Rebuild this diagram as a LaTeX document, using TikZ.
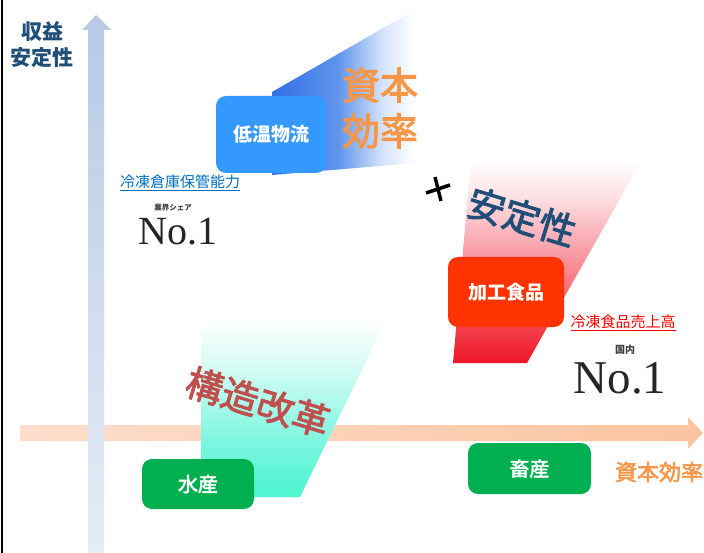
\documentclass[tikz,border=0pt]{standalone}
\usepackage{fontspec}
\newfontfamily\jp{Noto Sans CJK JP}
\newfontfamily\jpm{Noto Sans CJK JP}[FakeBold=2.5]
\newfontfamily\noone{Liberation Serif}
\definecolor{axisblue}{RGB}{31,78,121}
\definecolor{orangetx}{RGB}{247,150,70}
\definecolor{boxblue}{RGB}{51,153,255}
\definecolor{boxred}{RGB}{255,51,0}
\definecolor{boxgreen}{RGB}{0,176,80}
\definecolor{linkblue}{RGB}{0,112,192}
\definecolor{reform}{RGB}{192,80,77}
\definecolor{bwA}{RGB}{50,110,230}
\definecolor{bwB}{RGB}{95,148,236}
\definecolor{bwC}{RGB}{212,227,251}
\definecolor{rwA}{RGB}{238,22,40}
\definecolor{rwB}{RGB}{245,70,80}
\definecolor{rwC}{RGB}{248,145,155}
\definecolor{rwD}{RGB}{253,225,228}
\definecolor{twA}{RGB}{75,245,208}
\definecolor{twB}{RGB}{125,246,224}
\definecolor{twC}{RGB}{210,252,243}
\pgfdeclarehorizontalshading{bluefade}{100bp}{color(0bp)=(bwA); color(25bp)=(bwA); color(41bp)=(bwB); color(52bp)=(bwC); color(60bp)=(white); color(100bp)=(white)}
\pgfdeclareverticalshading{redfade}{100bp}{color(0bp)=(rwA); color(25bp)=(rwA); color(35bp)=(rwB); color(50bp)=(rwC); color(66bp)=(rwD); color(75bp)=(white); color(100bp)=(white)}
\pgfdeclareverticalshading{tealfade}{100bp}{color(0bp)=(twA); color(25bp)=(twA); color(40bp)=(twB); color(59bp)=(twC); color(72bp)=(white); color(100bp)=(white)}
\tikzset{
  catbox/.style={rounded corners=10pt, inner sep=0pt, text=white, font=\jp\bfseries\fontsize{19}{21}\selectfont},
  bigtx/.style={inner sep=0pt, font=\jpm\fontsize{38}{40}\selectfont, text=orangetx},
  rottx/.style={inner sep=0pt, rotate=-17, font=\jpm\fontsize{37}{40}\selectfont},
  notetx/.style={inner sep=0pt, font=\jp\fontsize{15}{17}\selectfont},
  smalltx/.style={inner sep=0pt, font=\jp\bfseries\fontsize{7.5}{8}\selectfont, text=black!75},
  nolabel/.style={inner sep=0pt, anchor=base, text=black!85}
}
\begin{document}
\begin{tikzpicture}[x=1pt,y=-1pt]
\useasboundingbox (0,0) rectangle (704,553);
\fill[white] (0,0) rectangle (704,553);
\draw[black, line width=2pt] (1.5,0) -- (1.5,553);

% horizontal axis arrow
\shade[left color={rgb,255:red,253;green,222;blue,204}, right color={rgb,255:red,251;green,196;blue,160}]
  (20,425) -- (688,425) -- (688,417) -- (703,433) -- (688,449) -- (688,441) -- (20,441) -- cycle;
% vertical axis arrow
\shade[top color={rgb,255:red,183;green,201;blue,228}, bottom color={rgb,255:red,230;green,236;blue,246}]
  (88,553) -- (88,30) -- (82,30) -- (96,15) -- (111,30) -- (104,30) -- (104,553) -- cycle;

% wedges
\shade[shading=bluefade] (272,92) -- (418,8) -- (476,158) -- (272,175) -- cycle;
\shade[shading=redfade] (471,160) -- (642,160) -- (527,363) -- (453,363) -- cycle;
\shade[shading=tealfade] (201,310) -- (391,310) -- (300,497) -- (201,497) -- cycle;

% axis labels
\node[inner sep=0pt, text=axisblue, font=\jp\bfseries\fontsize{21}{23}\selectfont] (ylab1) at (42,32) {収益};
\node[inner sep=0pt, text=axisblue, font=\jp\bfseries\fontsize{21}{23}\selectfont] (ylab2) at (42,58) {安定性};
\node[inner sep=0pt, text=orangetx, font=\jpm\fontsize{22}{24}\selectfont] (xlab) at (659,472) {資本効率};

% category boxes
\node[catbox, fill=boxblue, minimum width=110pt, minimum height=77pt] (cold) at (271,134.5) {低温物流};
\node[catbox, fill=boxred, minimum width=116pt, minimum height=70pt] (proc) at (506,292) {加工食品};
\node[catbox, fill=boxgreen, minimum width=112pt, minimum height=50pt, font=\jpm\fontsize{20}{22}\selectfont] (fish) at (198,484) {水産};
\node[catbox, fill=boxgreen, minimum width=123pt, minimum height=51pt, font=\jpm\fontsize{20}{22}\selectfont] (meat) at (529.5,468.5) {畜産};

% big labels
\node[bigtx] (shihon) at (380,85) {資本};
\node[bigtx] (koritsu) at (380,131) {効率};
\node[rottx, text=axisblue] (antei) at (522,217) {安定性};
\node[rottx, text=reform] (kozo) at (258,402) {構造改革};

% plus sign
\coordinate (pl1) at (426,193);
\coordinate (pl2) at (450,185);
\coordinate (pl3) at (435,177);
\coordinate (pl4) at (441,201);
\draw[black, line width=3.5pt] (pl1) -- (pl2);
\draw[black, line width=3.5pt] (pl3) -- (pl4);

% notes
\node[notetx, text=linkblue] (note1) at (180,183) {\underline{冷凍倉庫保管能力}};
\node[smalltx] (share) at (173,208) {業界シェア};
\node[nolabel, font=\noone\fontsize{40}{42}\selectfont] (no1a) at (178,245) {No.1};

\node[notetx, text=red] (note2) at (623,323) {\underline{冷凍食品売上高}};
\node[smalltx, font=\jp\bfseries\fontsize{10}{11}\selectfont] (kokunai) at (625,350) {国内};
\node[nolabel, font=\noone\fontsize{47}{49}\selectfont] (no1b) at (620,393) {No.1};
\end{tikzpicture}
\end{document}
